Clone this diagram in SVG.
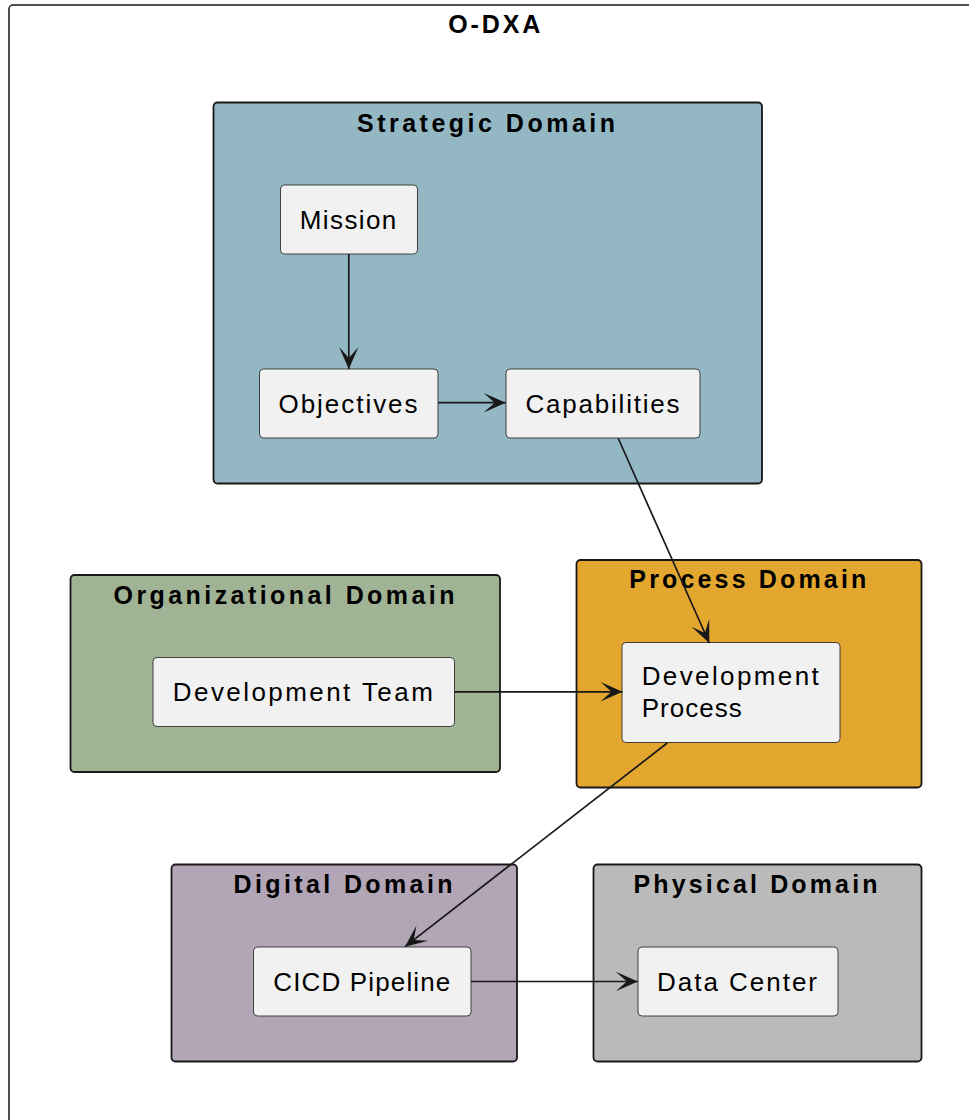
<svg xmlns="http://www.w3.org/2000/svg" width="969" height="1120" viewBox="0 0 969 1120">
<style>
.frame{fill:#FFFFFF;stroke:#181818;stroke-width:1.5}
.dom{stroke:#181818;stroke-width:1.8}
.node{fill:#F1F1F1;stroke:#303030;stroke-width:0.9}
.title{font-family:"Liberation Sans",Arial,sans-serif;font-size:25px;font-weight:bold;fill:#000000}
.lbl{font-family:"Liberation Sans",Arial,sans-serif;font-size:26px;fill:#000000}
.edge{fill:none;stroke:#181818;stroke-width:1.7}
</style>
<defs>
<marker id="ah" markerUnits="userSpaceOnUse" markerWidth="24" markerHeight="22" viewBox="-23 -11 24 22" refX="0" refY="0" orient="auto">
<path d="M0,0 L-22,-9.7 L-11,0 L-22,9.7 Z" fill="#181818"/>
</marker>
</defs>
<g id="odxa">
<rect class="frame" x="9" y="5" width="980" height="1140" rx="4"/>
<text class="title" x="448.3" y="33.3" textLength="92" lengthAdjust="spacing">O-DXA</text>
</g>
<g id="strategic-domain">
<rect class="dom" x="213.5" y="102.5" width="548.5" height="381" rx="4" fill="#93B8C4"/>
<text class="title" x="357" y="131.5" textLength="258" lengthAdjust="spacing">Strategic Domain</text>
</g>
<g id="organizational-domain">
<rect class="dom" x="70.5" y="575" width="429.5" height="197" rx="4" fill="#A0B394"/>
<text class="title" x="113.5" y="603.5" textLength="341" lengthAdjust="spacing">Organizational Domain</text>
</g>
<g id="process-domain">
<rect class="dom" x="576.5" y="560" width="345" height="227.5" rx="4" fill="#E3A72F"/>
<text class="title" x="629.3" y="588.3" textLength="237" lengthAdjust="spacing">Process Domain</text>
</g>
<g id="digital-domain">
<rect class="dom" x="171.5" y="864.5" width="345.5" height="197" rx="4" fill="#B2A5B6"/>
<text class="title" x="233.5" y="892.7" textLength="219" lengthAdjust="spacing">Digital Domain</text>
</g>
<g id="physical-domain">
<rect class="dom" x="593.5" y="864.5" width="328" height="197" rx="4" fill="#BABABA"/>
<text class="title" x="633.5" y="892.7" textLength="244" lengthAdjust="spacing">Physical Domain</text>
</g>
<g id="mission">
<rect class="node" x="280.5" y="185" width="137" height="69" rx="4"/>
<text class="lbl" x="299.8" y="228.6" textLength="96.5" lengthAdjust="spacing">Mission</text>
</g>
<g id="objectives">
<rect class="node" x="259.5" y="369" width="178.5" height="69" rx="4"/>
<text class="lbl" x="278.5" y="412.6" textLength="139" lengthAdjust="spacing">Objectives</text>
</g>
<g id="capabilities">
<rect class="node" x="506" y="369" width="194" height="69" rx="4"/>
<text class="lbl" x="525.5" y="412.6" textLength="154" lengthAdjust="spacing">Capabilities</text>
</g>
<g id="development-team">
<rect class="node" x="153" y="657.5" width="301.5" height="69" rx="4"/>
<text class="lbl" x="172.8" y="701.1" textLength="260" lengthAdjust="spacing">Development Team</text>
</g>
<g id="development-process">
<rect class="node" x="622" y="642.5" width="218" height="100" rx="4"/>
<text class="lbl" x="641.7" y="685.2" textLength="177" lengthAdjust="spacing">Development</text>
<text class="lbl" x="641.7" y="716.5" textLength="100" lengthAdjust="spacing">Process</text>
</g>
<g id="cicd-pipeline">
<rect class="node" x="253.5" y="947" width="217.5" height="69" rx="4"/>
<text class="lbl" x="273.3" y="990.6" textLength="177" lengthAdjust="spacing">CICD Pipeline</text>
</g>
<g id="data-center">
<rect class="node" x="638" y="947" width="200" height="69" rx="4"/>
<text class="lbl" x="657" y="990.6" textLength="160" lengthAdjust="spacing">Data Center</text>
</g>
<g id="connectors">
<path class="edge" d="M348.8,254 L348.8,369" marker-end="url(#ah)"/>
<path class="edge" d="M438,402.7 L505.7,402.7" marker-end="url(#ah)"/>
<path class="edge" d="M618.3,438.5 L709.3,643" marker-end="url(#ah)"/>
<path class="edge" d="M454.5,691.8 L622.5,691.8" marker-end="url(#ah)"/>
<path class="edge" d="M667.3,743 L405,946.7" marker-end="url(#ah)"/>
<path class="edge" d="M471,981.5 L637.8,981.5" marker-end="url(#ah)"/>
</g>
</svg>
